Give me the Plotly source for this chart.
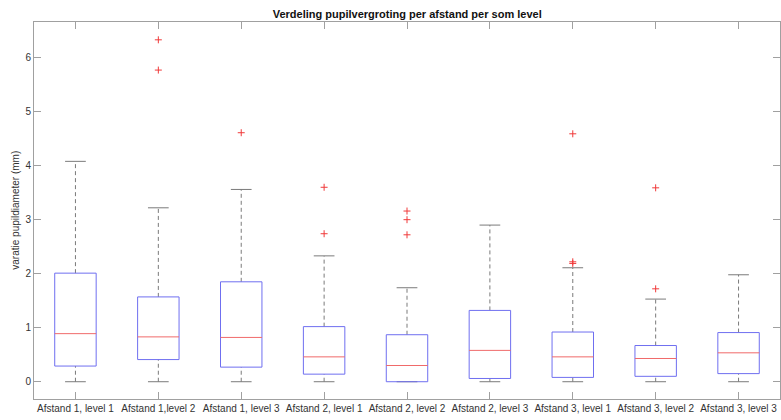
import plotly.graph_objects as go

categories = ["Afstand 1, level 1", "Afstand 1,level 2", "Afstand 1, level 3",
              "Afstand 2, level 1", "Afstand 2, level 2", "Afstand 2, level 3",
              "Afstand 3, level 1", "Afstand 3, level 2", "Afstand 3, level 3"]
lower_whisker = [0, 0, 0, 0, 0, 0, 0, 0, 0]
q1 = [0.29, 0.41, 0.27, 0.14, 0.0, 0.06, 0.08, 0.10, 0.15]
median = [0.89, 0.83, 0.82, 0.46, 0.30, 0.58, 0.46, 0.43, 0.535]
q3 = [2.01, 1.57, 1.85, 1.02, 0.87, 1.32, 0.92, 0.67, 0.91]
upper_whisker = [4.08, 3.22, 3.56, 2.33, 1.74, 2.90, 2.11, 1.53, 1.98]
outliers = [[], [6.33, 5.77], [4.61], [3.60, 2.74], [3.16, 3.00, 2.72], [],
            [4.59, 2.22, 2.19], [3.59, 1.72], []]
yticks = [0, 1, 2, 3, 4, 5, 6]

box_half = 0.25
cap_half = 0.125
box_color = "#6f6ff0"
med_color = "#f06a6a"
whisk_color = "#7a7a7a"

fig = go.Figure()

for i in range(len(categories)):
    xc = i + 1
    # whiskers (dashed)
    fig.add_trace(go.Scatter(
        x=[xc, xc, None, xc, xc],
        y=[q3[i], upper_whisker[i], None, lower_whisker[i], q1[i]],
        mode="lines", line=dict(color=whisk_color, width=1, dash="4px,3px"),
        hoverinfo="skip", showlegend=False))
    # caps
    fig.add_trace(go.Scatter(
        x=[xc - cap_half, xc + cap_half, None, xc - cap_half, xc + cap_half],
        y=[upper_whisker[i], upper_whisker[i], None, lower_whisker[i], lower_whisker[i]],
        mode="lines", line=dict(color=whisk_color, width=1),
        hoverinfo="skip", showlegend=False))
    # box
    fig.add_trace(go.Scatter(
        x=[xc - box_half, xc + box_half, xc + box_half, xc - box_half, xc - box_half],
        y=[q1[i], q1[i], q3[i], q3[i], q1[i]],
        mode="lines", line=dict(color=box_color, width=1),
        hoverinfo="skip", showlegend=False))
    # median
    fig.add_trace(go.Scatter(
        x=[xc - box_half, xc + box_half], y=[median[i], median[i]],
        mode="lines", line=dict(color=med_color, width=1),
        hoverinfo="skip", showlegend=False))
    # outliers
    if outliers[i]:
        fig.add_trace(go.Scatter(
            x=[xc] * len(outliers[i]), y=outliers[i], mode="markers",
            marker=dict(symbol="cross-thin", size=5, line=dict(color="#f03a3a", width=1)),
            showlegend=False))

axis_common = dict(
    showline=True, linecolor="#a0a0a0", linewidth=1, mirror="ticks",
    ticks="inside", ticklen=7, tickcolor="#a0a0a0", tickwidth=1,
    showgrid=False, zeroline=False, automargin=False,
    tickfont=dict(family="Liberation Sans, Arial", size=10, color="#333333"),
)

fig.update_layout(
    width=781, height=420,
    margin=dict(l=34, r=1, t=22, b=21),
    paper_bgcolor="white", plot_bgcolor="white",
    title=dict(text="<b>Verdeling pupilvergroting per afstand per som level</b>",
               x=0.5214, xanchor="center", y=0.966, yanchor="middle",
               font=dict(family="Liberation Sans, Arial", size=11, color="#111111")),
    xaxis=dict(range=[0.5, 9.5], tickvals=list(range(1, 10)), ticktext=categories,
               ticklabelstandoff=0, **axis_common),
    yaxis=dict(range=[-0.32, 6.66], tickvals=yticks, ticktext=[str(t) for t in yticks],
               ticklabelstandoff=0, **axis_common),
    annotations=[dict(text="varatie pupildiameter (mm)", xref="paper", yref="paper",
                      x=-0.0252, y=0.5, xanchor="center", yanchor="middle",
                      textangle=-90, showarrow=False,
                      font=dict(family="Liberation Sans, Arial", size=10, color="#333333"))],
)

fig.write_html("out.html",
               config={"displayModeBar": False},
               post_script="document.body.style.margin='0px';"
                           "document.body.style.overflow='hidden';")
